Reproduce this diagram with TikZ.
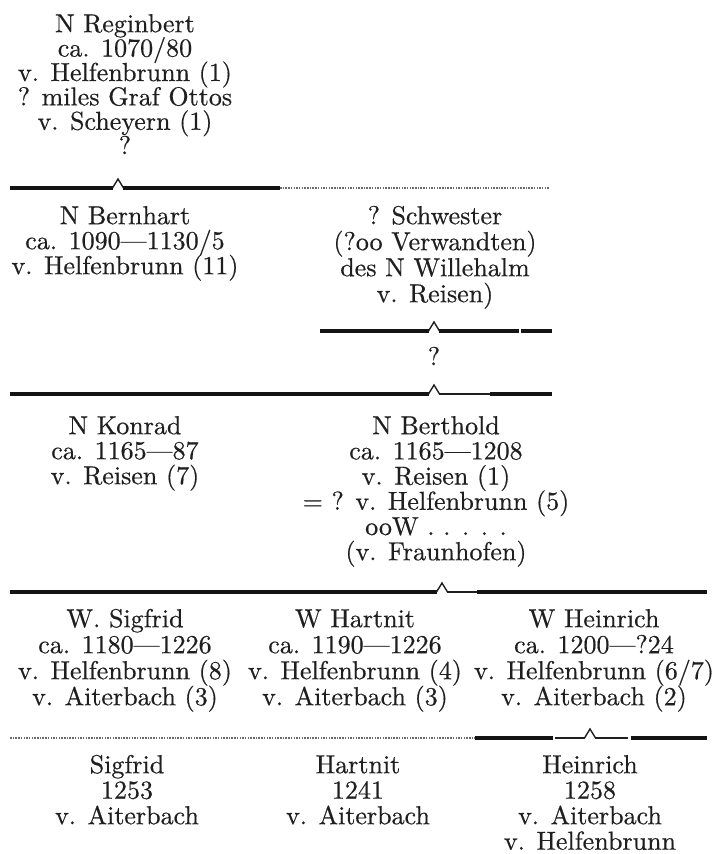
\documentclass[tikz,border=0pt]{standalone}
\usepackage{fontspec}
\setmainfont{lmroman10-regular.otf}[FakeBold=0.5]
\newcommand\topst{\vrule width 0pt height 0.8em depth 0pt\relax}
\tikzset{
  blk/.style={anchor=north, inner sep=0pt, align=center, text=black!88,
    font=\fontsize{26}{25}\selectfont},
  blkreg/.style={blk, font=\fontsize{26}{24.4}\selectfont},
  blkwide/.style={blk, font=\fontsize{26}{26}\selectfont},
  blkmid/.style={blk, font=\fontsize{26}{25.2}\selectfont},
  blklow/.style={blk, font=\fontsize{26}{25.5}\selectfont},
  bar/.style={line width=3.2pt, black!92},
  thinbar/.style={line width=2pt, black!88},
  peakline/.style={line width=1.4pt, black!88, line join=miter},
  dotline/.style={line width=1.6pt, black!58, dash pattern=on 1.5pt off 1.2pt}
}
\begin{document}
\lineskiplimit=-40pt
\lineskip=0pt
\begin{tikzpicture}[x=1pt, y=-1pt]
\useasboundingbox[fill=white] (0,0) rectangle (724,854);

% ---------- text blocks ----------
\node[blkreg] (reg) at (125,11.2) {\topst N Reginbert\\ca. 1070/80\\v. Helfenbrunn (1)\\? miles Graf Ottos\\v. Scheyern (1)\\?};
\node[blk] (bern) at (125,203.2) {\topst N Bernhart\\ca. 1090—1130/5\\v. Helfenbrunn (11)};
\node[blkwide] (schw) at (435,203.2) {\topst ? Schwester\\(?oo Verwandten)\\des N Willehalm\\v. Reisen)};
\node[blk] (q) at (434,344.2) {\topst ?};
\node[blk] (konr) at (125,413.2) {\topst N Konrad\\ca. 1165—87\\v. Reisen (7)};
\node[blkmid] (berth) at (436,413.2) {\topst N Berthold\\ca. 1165—1208\\v. Reisen (1)\\= ? v. Helfenbrunn (5)\\ooW . . . . .\\(v. Fraunhofen)};
\node[blkwide] (sig) at (125,606.2) {\topst W. Sigfrid\\ca. 1180—1226\\v. Helfenbrunn (8)\\v. Aiterbach (3)};
\node[blkwide] (hart) at (355,606.2) {\topst W Hartnit\\ca. 1190—1226\\v. Helfenbrunn (4)\\v. Aiterbach (3)};
\node[blkwide] (hein) at (594,606.2) {\topst W Heinrich\\ca. 1200—?24\\v. Helfenbrunn (6/7)\\v. Aiterbach (2)};
\node[blklow] (sig2) at (127,752.2) {\topst Sigfrid\\1253\\v. Aiterbach};
\node[blklow] (hart2) at (358,752.2) {\topst Hartnit\\1241\\v. Aiterbach};
\node[blklow] (hein2) at (590,752.2) {\topst Heinrich\\1258\\v. Aiterbach\\v. Helfenbrunn};

% ---------- family lines ----------
% line 1
\coordinate (l1a) at (10,188);  \coordinate (l1p) at (118,188);
\coordinate (l1b) at (280,188); \coordinate (l1d) at (550,188);
\draw[bar] (l1a) -- ([xshift=-5pt]l1p);
\draw[peakline] ([xshift=-5.5pt]l1p) -- ([yshift=9pt]l1p) -- ([xshift=5.5pt]l1p);
\draw[bar] ([xshift=5pt]l1p) -- (l1b);
\draw[dotline] (l1b) -- (l1d);

% line 2
\coordinate (l2a) at (320,331); \coordinate (l2p) at (434,331); \coordinate (l2b) at (552,331);
\draw[bar] (l2a) -- ([xshift=-5pt]l2p);
\draw[peakline] ([xshift=-5.5pt]l2p) -- ([yshift=9pt]l2p) -- ([xshift=5.5pt]l2p);
\draw[bar] ([xshift=5pt]l2p) -- (519,331);
\draw[bar] (521,331) -- (l2b);

% line 3
\coordinate (l3a) at (10,394); \coordinate (l3p) at (434,394); \coordinate (l3b) at (552,394);
\draw[bar] (l3a) -- ([xshift=-5pt]l3p);
\draw[peakline] ([xshift=-5.5pt]l3p) -- ([yshift=9pt]l3p) -- ([xshift=5.5pt]l3p);
\draw[thinbar] ([xshift=5pt]l3p) -- (490,394);
\draw[bar] (490,394) -- (l3b);

% line 4
\coordinate (l4a) at (10,592); \coordinate (l4p) at (442,592); \coordinate (l4b) at (707,592);
\draw[bar] (l4a) -- ([xshift=-5pt]l4p);
\draw[peakline] ([xshift=-5.5pt]l4p) -- ([yshift=9pt]l4p) -- ([xshift=5.5pt]l4p);
\draw[thinbar] ([xshift=5pt]l4p) -- (477,592);
\draw[bar] (477,592) -- (l4b);

% line 5
\coordinate (l5a) at (10,738); \coordinate (l5s) at (475,738);
\coordinate (l5p) at (590,738); \coordinate (l5b) at (707,738);
\draw[dotline] (l5a) -- (l5s);
\draw[bar] (l5s) -- (553,738);
\draw[thinbar] (555,738) -- ([xshift=-5pt]l5p);
\draw[peakline] ([xshift=-5.5pt]l5p) -- ([yshift=9pt]l5p) -- ([xshift=5.5pt]l5p);
\draw[thinbar] ([xshift=5pt]l5p) -- (628,738);
\draw[bar] (631,738) -- (l5b);
\end{tikzpicture}
\end{document}
